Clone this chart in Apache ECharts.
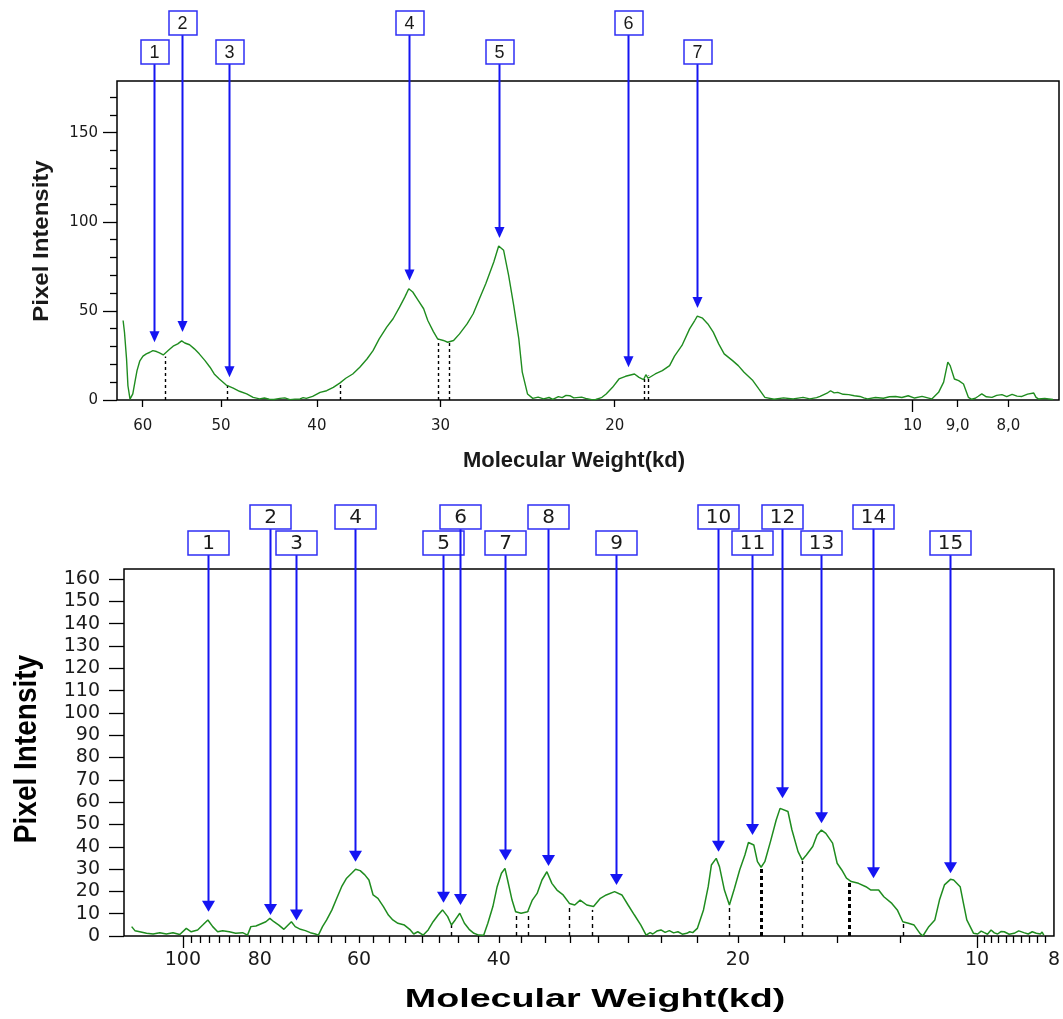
<!DOCTYPE html>
<html>
<head>
<meta charset="utf-8">
<script src="https://cdn.jsdelivr.net/npm/echarts@6/dist/echarts.min.js"></script>
<style>
  html, body { margin: 0; padding: 0; background: #fff; }
  #chart { width: 1063px; height: 1019px; }
</style>
</head>
<body>
<div id="chart"></div>
<script>
// ---------- Upper lane: densitometry trace ----------
const topMW = [62.8, 62.6, 62.3, 62.1, 61.8, 61.6, 61.4, 61.1, 60.8, 60.4, 59.96, 59.5, 59.0, 58.6, 58.1, 57.7, 57.2, 57.0, 56.8, 56.4,
  55.9, 55.3, 54.8, 54.4, 53.8, 53.2, 52.6, 51.9, 51.3, 50.8, 50.2, 49.4, 48.6, 47.9, 47.1, 46.4, 45.7, 45.2, 44.7, 44.2,
  43.6, 43.1, 42.6, 42.1, 41.6, 41.3, 41.0, 40.4, 39.7, 39.1, 38.5, 37.9, 37.4, 36.8, 36.2, 35.6, 35.1, 34.6, 34.0, 33.5,
  33.0, 32.6, 32.3, 32.0, 31.6, 31.2, 30.9, 30.5, 30.2, 29.8, 29.5, 29.1, 28.7, 28.2, 27.8, 27.4, 27.0, 26.5, 26.2, 25.9,
  25.6, 25.3, 25.0, 24.8, 24.5, 24.2, 23.9, 23.6, 23.3, 23.1, 22.8, 22.6, 22.4, 22.2, 22.0, 21.9, 21.6, 21.4, 21.1, 20.9,
  20.7, 20.6, 20.4, 20.1, 19.8, 19.5, 19.1, 18.9, 18.7, 18.6, 18.5, 18.2, 17.9, 17.6, 17.4, 17.1, 16.8, 16.6, 16.5, 16.3,
  16.1, 15.9, 15.7, 15.5, 15.2, 15.0, 14.8, 14.5, 14.3, 14.1, 13.8, 13.5, 13.2, 12.9, 12.7, 12.5, 12.4, 12.2, 12.1, 12.0,
  11.9, 11.75, 11.6, 11.45, 11.3, 11.2, 11.1, 10.9, 10.7, 10.55, 10.4, 10.25, 10.1, 9.95, 9.78, 9.65, 9.56, 9.41, 9.30, 9.21,
  9.16, 9.13, 9.07, 8.98, 8.88, 8.78, 8.71, 8.64, 8.58, 8.51, 8.42, 8.31, 8.22, 8.12, 8.03, 7.93, 7.84, 7.75, 7.65, 7.54,
  7.50, 7.46, 7.35, 7.21];
const topIntensity = [44.6, 38, 23, 8, 0.5, 0, 3.4, 10, 16.5, 22, 24.6, 25.9, 26.8, 27.7, 27.2, 26.4, 25.3, 24.4, 26.8, 28.3,
  30.2, 31.5, 33.2, 32, 31, 28.7, 25.9, 22.1, 18.4, 14.6, 11.8, 8.4, 6.6, 4.9, 3.4, 1.5, 0.6, 1.1, 0.4, 0.3,
  0.9, 1.2, 0.2, 0.5, 0.6, 1.3, 0.9, 2, 4.3, 5.2, 7.1, 9.6, 12.2, 14.6, 18.4, 23, 27.7, 34.3, 40.9, 45.6,
  52.1, 57.7, 62.4, 60.6, 55.9, 51.2, 44.6, 38.4, 34.3, 33.4, 32.4, 33.4, 37.1, 42.7, 48.4, 56.8, 65.2, 77.4, 86.4, 84,
  69.9, 53.1, 34.3, 15.6, 3.4, 0.9, 1.6, 0.6, 1.4, 0.4, 1.9, 1.3, 2.6, 2.4, 1.2, 0.6, 1.6, 0.9, 0.2, 0.3,
  1.1, 1.5, 3.4, 7.1, 11.8, 13.3, 14.6, 12.7, 11.4, 14.2, 12.2, 14.6, 16.5, 19.3, 24.6, 30.6, 39.9, 44.6, 47.1, 45.9,
  42.7, 38.1, 31.5, 25.9, 22.1, 19.3, 15.6, 10.9, 6.2, 1.5, 0.4, 1.2, 0.6, 1.5, 0.6, 1.3, 2, 3.8, 5.2, 4.0,
  4.3, 3.2, 3, 2.4, 2, 1.2, 0.6, 1.4, 1.0, 1.8, 2, 1.4, 2.4, 1.1, 2, 1.2, 0.6, 4.3, 10, 21.2,
  19.3, 20.2, 11.8, 10.9, 9, 1.5, 0.4, 1.0, 2.1, 3.4, 1.8, 1.5, 2.6, 3, 1.9, 3.2, 2.2, 2, 3.3, 3.9,
  1.5, 0.6, 0.9, 0.3];

// numbered bands: molecular weight and the height of each arrow tip
const topPeakMW = [58.5, 54.8, 49.1, 32.3, 26.2, 19.4, 16.5];
const topPeakTip = [32.4, 38.1, 12.7, 67.1, 90.9, 18.4, 51.6];

// band boundaries (dotted drop lines)
const topSplitMW = [57.0, 49.3, 37.9, 30.2, 29.4, 18.7, 18.5];
const topSplitHeight = [24.4, 8.4, 9.6, 34.3, 32.4, 12.2, 13.7];

const topTickMW = [60, 50, 40, 30, 20, 10, 9, 8];
const topTickText = ['60', '50', '40', '30', '20', '10', '9,0', '8,0'];
const topYLabels = [0, 50, 100, 150];

// ---------- Lower lane: densitometry trace ----------
const bottomMW = [116.0, 114.9, 113.3, 111.1, 109.0, 106.9, 104.9, 102.9, 100.9, 99.0, 97.6, 95.8, 94.4, 93.0, 91.7, 90.4, 89.1, 87.4, 85.8, 84.1,
  82.9, 82.1, 80.9, 79.8, 78.6, 77.7, 76.8, 75.7, 74.6, 73.9, 73.0, 72.2, 71.1, 70.1, 69.1, 68.1, 67.5, 66.7, 65.9, 64.9,
  64.0, 63.1, 62.2, 61.3, 60.6, 59.8, 59.0, 58.3, 57.6, 56.8, 55.9, 55.1, 54.4, 53.6, 52.6, 51.8, 51.2, 50.6, 49.8, 49.1,
  48.4, 47.7, 47.1, 46.4, 45.9, 45.4, 44.8, 44.2, 43.6, 43.0, 42.4, 41.8, 41.3, 40.7, 40.2, 39.7, 39.3, 39.0, 38.5, 38.1,
  37.5, 36.8, 36.3, 35.8, 35.3, 34.8, 34.3, 33.8, 33.2, 32.6, 32.1, 31.6, 31.0, 30.4, 29.8, 29.3, 28.6, 28.0, 27.5, 27.0,
  26.5, 26.1, 25.8, 25.6, 25.3, 25.0, 24.7, 24.4, 24.1, 23.8, 23.5, 23.2, 23.0, 22.8, 22.5, 22.1, 21.8, 21.6, 21.3, 21.1,
  20.8, 20.5, 20.2, 19.9, 19.6, 19.4, 19.1, 18.9, 18.7, 18.5, 18.2, 17.9, 17.7, 17.6, 17.3, 17.1, 16.8, 16.6, 16.4, 16.1,
  15.9, 15.7, 15.5, 15.2, 15.0, 14.8, 14.6, 14.4, 14.1, 13.8, 13.6, 13.3, 13.1, 12.8, 12.6, 12.4, 12.2, 12.0, 11.8, 11.7,
  11.5, 11.3, 11.15, 10.99, 10.8, 10.7, 10.5, 10.4, 10.3, 10.1, 9.98, 9.88, 9.79, 9.70, 9.60, 9.51, 9.42, 9.33, 9.24, 9.11,
  8.98, 8.86, 8.73, 8.62, 8.52, 8.42, 8.32, 8.28, 8.24];
const bottomIntensity = [4.2, 2.4, 1.9, 1.2, 0.9, 1.5, 0.9, 1.5, 0.7, 3.4, 1.9, 2.7, 4.9, 7.2, 4.2, 1.9, 2.4, 1.9, 1.2, 1.5,
  0.4, 4.2, 4.5, 5.4, 6.4, 7.9, 6.4, 4.9, 3.0, 4.5, 6.4, 4.2, 3.0, 2.4, 1.5, 0.9, 0.4, 4.2, 7.2, 11.7,
  16.9, 22.1, 25.9, 28.1, 29.9, 29.3, 27.4, 25.1, 18.4, 16.9, 13.2, 9.4, 7.2, 5.7, 4.9, 3.0, 0.9, 1.9, 0.4, 2.7,
  6.4, 9.4, 11.7, 8.7, 4.9, 7.2, 10.2, 5.7, 3.0, 1.2, 0.4, 0.3, 5.7, 13.2, 22.1, 28.1, 30.3, 25.1, 16.1, 10.9,
  10.2, 10.9, 16.1, 19.1, 25.1, 28.8, 23.6, 20.6, 18.4, 14.6, 13.9, 16.1, 13.9, 13.2, 16.9, 18.4, 19.9, 18.4, 13.9, 9.4,
  4.9, 0.4, 1.5, 0.9, 2.2, 2.7, 1.6, 2.4, 1.4, 1.9, 0.8, 1.2, 1.9, 1.5, 3.4, 11.7, 22.1, 31.8, 34.8, 31.1,
  20.6, 13.9, 21.4, 29.6, 36.3, 41.9, 40.8, 33.3, 30.8, 33.3, 42.3, 52.0, 57.2, 58.0, 55.8, 47.5, 37.8, 34.1, 36.3, 40.1,
  45.3, 47.5, 46.0, 41.6, 32.6, 29.6, 25.9, 24.4, 23.6, 22.1, 20.6, 20.6, 17.6, 14.6, 11.7, 6.4, 5.7, 4.9, 1.2, 0,
  4.2, 7.2, 16.1, 22.9, 25.4, 25.1, 22.1, 14.6, 7.2, 1.2, 0.9, 2.2, 1.5, 0.8, 2.7, 1.4, 0.9, 2.0, 1.9, 0.8,
  1.2, 2.3, 1.5, 0.9, 1.9, 1.2, 0.9, 1.8, 0.4];

const bottomPeakMW = [93.0, 77.7, 72.0, 60.7, 47.1, 44.8, 39.3, 34.7, 28.5, 21.2, 19.2, 17.6, 15.7, 13.5, 10.8];
const bottomPeakTip = [10.9, 9.4, 6.9, 33.3, 14.9, 13.9, 33.8, 31.4, 22.9, 37.8, 45.3, 61.7, 50.5, 25.9, 28.1];

const bottomSplitMW = [46.0, 38.1, 36.8, 32.6, 30.5, 20.5, 16.6, 12.4];
const bottomSplitHeight = [4.9, 10.9, 10.9, 14.6, 11.7, 13.5, 33.6, 6.0];
const bottomBoldSplitMW = [18.7, 14.5];
const bottomBoldSplitHeight = [30.4, 24.2];

const bottomTickMW = [100, 80, 60, 40, 20, 10, 8];
const bottomTickText = ['100', '80', '60', '40', '20', '10', '8'];

// ---------- drawing ----------
const L = Math.log10;
const GREEN = '#1f8c1f';
const BLUE = '#1515f2';
const BOX_BLUE = '#2f2ff5';
const INK = '#1a1a1a';
const pairs = (xs, ys) => xs.map((x, i) => [L(x), ys[i]]);
const isDecade = m => Math.abs(L(m) - Math.round(L(m))) < 1e-9;
const labelFor = (ticks, texts) => v => {
  const i = ticks.findIndex(m => Math.abs(L(m) - v) < 1e-6);
  return i < 0 ? '' : texts[i];
};

// minor ticks of the lower scale: every 2.5 kd down to 10, then every 0.2 kd
const bottomMinorMW = [];
for (let k = 39; k >= 5; k--) bottomMinorMW.push(k * 2.5);
for (let k = 49; k >= 41; k--) bottomMinorMW.push(k / 5);

const tickStyle = { color: '#000', width: 1.3 };
const labelFont = { fontFamily: '"DejaVu Sans", sans-serif', color: INK };

function xAxis(gridIndex, range, extra) {
  return Object.assign({
    type: 'value', gridIndex, position: 'bottom', inverse: true,
    min: L(range[1]), max: L(range[0]),
    axisLine: { show: false }, splitLine: { show: false },
    axisLabel: { show: false }, axisTick: { show: false }
  }, extra);
}
function yAxis(gridIndex, max, extra) {
  return Object.assign({
    type: 'value', gridIndex, position: 'left', min: 0, max,
    axisLine: { show: false }, splitLine: { show: false },
    axisLabel: { show: false }, axisTick: { show: false }
  }, extra);
}

function arrowRenderer(cfg) {
  return function (params, api) {
    const cs = params.coordSys;
    const tip = api.coord([api.value(0), api.value(1)]);
    const upper = params.dataIndex % 2 === 1;
    const boxTop = cs.y - (upper ? cfg.upper : cfg.lower);
    const x = Math.round(tip[0]) + 0.5;
    const headTop = tip[1] - cfg.headH;
    return {
      type: 'group',
      children: [
        { type: 'line', shape: { x1: x, y1: boxTop + cfg.boxH, x2: x, y2: headTop + 1 },
          style: { stroke: BLUE, lineWidth: 2 } },
        { type: 'polygon', shape: { points: [[x - cfg.headW / 2, headTop], [x + cfg.headW / 2, headTop], [x, tip[1]]] },
          style: { fill: BLUE } },
        { type: 'rect', shape: { x: Math.round(x - cfg.boxW / 2), y: boxTop, width: cfg.boxW, height: cfg.boxH },
          style: { fill: '#fff', stroke: BOX_BLUE, lineWidth: 1.5 } },
        { type: 'text', x: x, y: boxTop + cfg.boxH / 2 + 1,
          style: { text: String(params.dataIndex + 1), font: cfg.font, fill: INK,
                   align: 'center', verticalAlign: 'middle', textAlign: 'center', textVerticalAlign: 'middle' } }
      ]
    };
  };
}

function splitRenderer(width, dash) {
  return function (params, api) {
    const p0 = api.coord([api.value(0), 0]);
    const p1 = api.coord([api.value(0), api.value(1)]);
    const x = Math.round(p0[0]) + 0.5;
    return { type: 'line', shape: { x1: x, y1: p0[1], x2: x, y2: p1[1] },
             style: { stroke: '#000', lineWidth: width, lineDash: dash } };
  };
}

const topRange = [63.7, 7.11];
const bottomRange = [118.6, 8.0];

const topMinorY = [];
for (let v = 10; v <= 170; v += 10) if (v % 50 !== 0) topMinorY.push(v);
const bottomYLabels = [];
for (let v = 0; v <= 160; v += 10) bottomYLabels.push(v);

const chart = echarts.init(document.getElementById('chart'), null, { renderer: 'canvas' });

chart.setOption({
  animation: false,
  backgroundColor: '#fff',
  grid: [
    { left: 117, top: 81, width: 942, height: 319, show: true, borderColor: '#000', borderWidth: 1.5, backgroundColor: 'transparent' },
    { left: 124, top: 569, width: 936, height: 367, show: true, borderColor: '#000', borderWidth: 1.5, backgroundColor: 'transparent' }
  ],
  xAxis: [
    xAxis(0, topRange, {
      axisTick: { show: true, length: 7, lineStyle: tickStyle, customValues: topTickMW.filter(m => !isDecade(m)).map(L) },
      axisLabel: Object.assign({ show: true, margin: 19, fontSize: 15, customValues: topTickMW.map(L),
                                 formatter: labelFor(topTickMW, topTickText) }, labelFont)
    }),
    xAxis(0, topRange, {
      axisTick: { show: true, length: 12, lineStyle: tickStyle, customValues: topTickMW.filter(isDecade).map(L) }
    }),
    xAxis(1, bottomRange, {
      axisTick: { show: true, length: 7, lineStyle: tickStyle, customValues: bottomMinorMW.map(L) },
      axisLabel: Object.assign({ show: true, margin: 15, fontSize: 19, customValues: bottomTickMW.map(L),
                                 formatter: labelFor(bottomTickMW, bottomTickText) }, labelFont)
    }),
    xAxis(1, bottomRange, {
      axisTick: { show: true, length: 12, lineStyle: tickStyle, customValues: bottomTickMW.filter(isDecade).map(L) }
    })
  ],
  yAxis: [
    yAxis(0, 179, {
      axisTick: { show: true, length: 7, lineStyle: tickStyle, customValues: topMinorY }
    }),
    yAxis(0, 179, {
      axisTick: { show: true, length: 14, lineStyle: tickStyle, customValues: topYLabels },
      axisLabel: Object.assign({ show: true, margin: 19, fontSize: 15, customValues: topYLabels }, labelFont)
    }),
    yAxis(1, 164.5, {
      axisTick: { show: true, length: 15, lineStyle: tickStyle, customValues: bottomYLabels },
      axisLabel: Object.assign({ show: true, margin: 24, fontSize: 19, customValues: bottomYLabels }, labelFont)
    })
  ],
  graphic: [
    { type: 'text', x: 42, y: 241, rotation: Math.PI / 2, scaleY: 0.9,
      style: { text: 'Pixel Intensity', font: 'bold 24px "Liberation Sans", Arial, sans-serif', fill: INK,
               align: 'center', verticalAlign: 'middle', textAlign: 'center', textVerticalAlign: 'middle' } },
    { type: 'text', x: 574, y: 461,
      style: { text: 'Molecular Weight(kd)', font: 'bold 22px "Liberation Sans", Arial, sans-serif', fill: INK,
               align: 'center', verticalAlign: 'middle', textAlign: 'center', textVerticalAlign: 'middle' } },
    { type: 'text', x: 27, y: 749, rotation: Math.PI / 2, scaleY: 1.15,
      style: { text: 'Pixel Intensity', font: 'bold 28px "Liberation Sans", Arial, sans-serif', fill: '#000',
               align: 'center', verticalAlign: 'middle', textAlign: 'center', textVerticalAlign: 'middle' } },
    { type: 'text', x: 595, y: 1000, scaleX: 1.45,
      style: { text: 'Molecular Weight(kd)', font: 'bold 26px "Liberation Sans", Arial, sans-serif', fill: '#000',
               align: 'center', verticalAlign: 'middle', textAlign: 'center', textVerticalAlign: 'middle' } }
  ],
  series: [
    { type: 'custom', name: 'upper bounds', xAxisIndex: 0, yAxisIndex: 0, silent: true, clip: false, z: 2,
      data: pairs(topSplitMW, topSplitHeight), renderItem: splitRenderer(1.4, [3, 3]) },
    { type: 'line', name: 'upper lane', xAxisIndex: 0, yAxisIndex: 0, silent: true, z: 3,
      showSymbol: false, symbol: 'none', lineStyle: { color: GREEN, width: 1.4 },
      data: pairs(topMW, topIntensity) },
    { type: 'custom', name: 'upper bands', xAxisIndex: 0, yAxisIndex: 0, silent: true, clip: false, z: 5,
      data: pairs(topPeakMW, topPeakTip),
      renderItem: arrowRenderer({ boxW: 28, boxH: 24, upper: 70, lower: 41, headW: 10, headH: 11,
                                  font: '18px "Liberation Sans", Arial, sans-serif' }) },

    { type: 'custom', name: 'lower bounds', xAxisIndex: 2, yAxisIndex: 2, silent: true, clip: false, z: 2,
      data: pairs(bottomSplitMW, bottomSplitHeight), renderItem: splitRenderer(1.4, [4, 4]) },
    { type: 'custom', name: 'lower bounds (major)', xAxisIndex: 2, yAxisIndex: 2, silent: true, clip: false, z: 2,
      data: pairs(bottomBoldSplitMW, bottomBoldSplitHeight), renderItem: splitRenderer(3, [4, 3]) },
    { type: 'line', name: 'lower lane', xAxisIndex: 2, yAxisIndex: 2, silent: true, z: 3,
      showSymbol: false, symbol: 'none', lineStyle: { color: GREEN, width: 1.5 },
      data: pairs(bottomMW, bottomIntensity) },
    { type: 'custom', name: 'lower bands', xAxisIndex: 2, yAxisIndex: 2, silent: true, clip: false, z: 5,
      data: pairs(bottomPeakMW, bottomPeakTip),
      renderItem: arrowRenderer({ boxW: 41, boxH: 24, upper: 64, lower: 38, headW: 13, headH: 11,
                                  font: '20px "DejaVu Sans", sans-serif' }) }
  ]
});
</script>
</body>
</html>
